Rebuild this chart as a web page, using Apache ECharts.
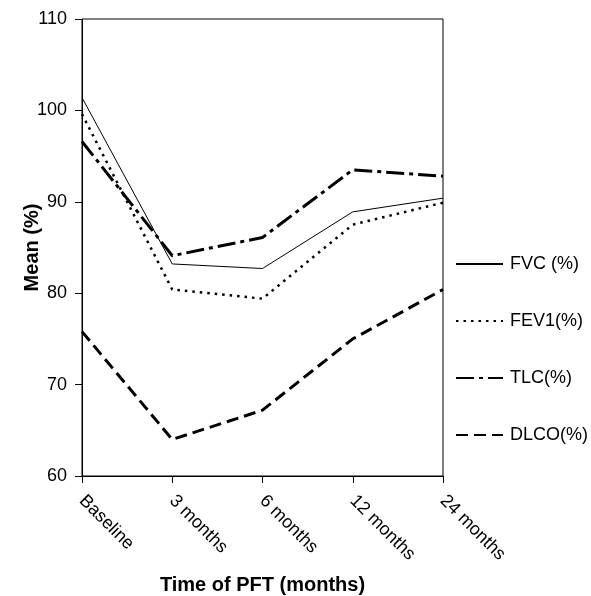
<!DOCTYPE html>
<html>
<head>
<meta charset="utf-8">
<script src="https://cdn.jsdelivr.net/npm/echarts@6/dist/echarts.min.js"></script>
<style>
  html, body { margin: 0; padding: 0; background: #fff; }
  #chart { width: 591px; height: 596px; }
</style>
</head>
<body>
<div id="chart"></div>
<script>
const categories = ['Baseline', '3 months', '6 months', '12 months', '24 months'];
const fvc = [101.4, 83.2, 82.7, 88.9, 90.4];
const fev1 = [99.6, 80.4, 79.4, 87.5, 89.9];
const tlc = [96.6, 84.1, 86.1, 93.5, 92.8];
const dlco = [75.8, 64.0, 67.2, 75.0, 80.4];
const yTicks = [60, 70, 80, 90, 100, 110];

const font = 'Liberation Sans, Arial, sans-serif';

const chart = echarts.init(document.getElementById('chart'));

function line(name, data, width, type) {
  return {
    name: name,
    type: 'line',
    data: data,
    symbol: 'none',
    animation: false,
    itemStyle: { color: '#000' },
    lineStyle: { color: '#000', width: width, type: type }
  };
}

chart.setOption({
  animation: false,
  grid: {
    left: 82, right: 148, top: 19, bottom: 120,
    outerBoundsMode: 'none',
    show: true, borderColor: '#000', borderWidth: 1
  },
  legend: {
    orient: 'vertical',
    left: 450,
    top: 249,
    itemWidth: 47,
    itemHeight: 14,
    itemGap: 37,
    itemStyle: { opacity: 0 },
    textStyle: { fontFamily: font, fontSize: 18, color: '#000', lineHeight: 20, padding: [0, 0, 0, 2] },
    data: ['FVC (%)', 'FEV1(%)', 'TLC(%)', 'DLCO(%)']
  },
  xAxis: {
    type: 'category',
    data: categories,
    boundaryGap: false,
    name: 'Time of PFT (months)',
    nameLocation: 'middle',
    nameGap: 99,
    nameMoveOverlap: false,
    nameTextStyle: { fontFamily: font, fontSize: 20, fontWeight: 'bold', color: '#000' },
    axisLine: { lineStyle: { color: '#000', width: 1 } },
    axisTick: { show: true, length: 7, alignWithLabel: true, lineStyle: { color: '#000' } },
    axisLabel: { rotate: -45, fontFamily: font, fontSize: 18, color: '#000', margin: 22 },
    splitLine: { show: false }
  },
  yAxis: {
    type: 'value',
    min: yTicks[0],
    max: yTicks[yTicks.length - 1],
    interval: 10,
    name: 'Mean (%)',
    nameLocation: 'middle',
    nameGap: 40,
    nameMoveOverlap: false,
    nameTextStyle: { fontFamily: font, fontSize: 20, fontWeight: 'bold', color: '#000' },
    axisLine: { show: true, lineStyle: { color: '#000', width: 1 } },
    axisTick: { show: true, length: 7, lineStyle: { color: '#000' } },
    axisLabel: { fontFamily: font, fontSize: 18, color: '#000', margin: 15 },
    splitLine: { show: false }
  },
  series: [
    line('FVC (%)', fvc, 1, 'solid'),
    line('FEV1(%)', fev1, 2.5, [2.5, 5]),
    line('TLC(%)', tlc, 3, [18, 5, 4, 5]),
    line('DLCO(%)', dlco, 3, [12, 6])
  ]
});
</script>
</body>
</html>
